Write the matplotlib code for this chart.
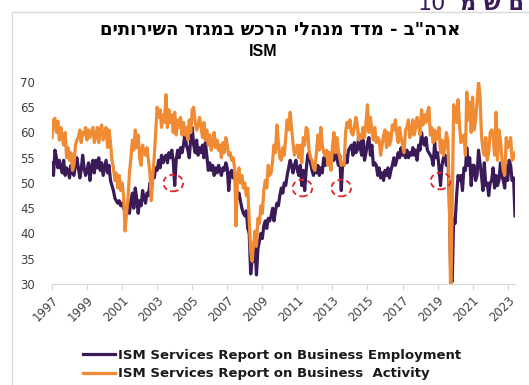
import matplotlib
matplotlib.use("Agg")
import matplotlib.pyplot as plt
import matplotlib.dates as mdates
from matplotlib.patches import Ellipse, Rectangle
import pandas as pd

# ISM services, monthly, Jul 1997 - Dec 2023
activity = [
    59.0, 62.5, 62.8, 60.0, 62.2, 58.5,
    61.0, 59.0, 57.5, 60.0, 55.0, 57.0, 54.5, 56.0, 52.5, 53.5, 57.5, 58.5,
    59.0, 60.5, 58.0, 60.0, 59.5, 61.0, 58.5, 60.5, 59.0, 60.0, 61.0, 58.0,
    59.5, 61.0, 58.0, 60.5, 61.5, 58.5, 60.0, 61.0, 57.0, 60.5, 58.0, 54.5,
    53.0, 50.5, 52.0, 49.0, 51.5, 48.5, 50.0, 47.5, 40.5, 44.0, 47.0, 52.0,
    55.0, 58.5, 56.5, 60.5, 57.0, 59.5, 55.0, 53.5, 57.5, 56.0, 55.5, 57.0,
    54.5, 52.0, 46.5, 51.5, 55.0, 60.0, 65.0, 63.0, 64.5, 61.0, 63.5, 62.0,
    67.5, 61.0, 64.5, 62.0, 63.5, 60.0, 64.0, 59.5, 62.5, 61.0, 63.0, 59.5,
    62.0, 59.5, 61.0, 58.5, 62.5, 60.0, 64.5, 65.0, 62.0, 60.5, 61.5, 63.0,
    61.0, 59.0, 62.0, 58.5, 60.5, 57.5, 59.5, 56.5, 58.0, 60.0, 57.0, 58.5,
    56.5, 57.5, 55.0, 58.0, 56.0, 59.0, 57.5, 55.5, 56.0, 54.5, 55.0, 53.0,
    41.5, 51.5, 53.0, 50.0, 51.5, 49.0, 50.0, 47.5, 49.0, 42.5, 36.5, 34.5,
    38.0, 40.5, 37.5, 43.0, 42.0, 45.5, 44.0, 48.5, 50.5, 49.0, 53.5, 51.5,
    52.0, 54.5, 57.5, 56.0, 61.5, 58.0, 55.0, 54.5, 57.0, 55.5, 59.0, 62.5,
    60.5, 64.0, 61.0, 58.0, 55.5, 56.5, 57.5, 55.0, 57.5, 54.0, 59.0, 57.5,
    61.0, 60.5, 56.5, 55.0, 54.5, 53.0, 52.5, 56.0, 59.5, 56.5, 61.0, 57.5,
    56.0, 55.5, 56.5, 53.5, 56.0, 52.5, 57.0, 60.0, 56.0, 59.0, 56.5, 55.0,
    53.5, 54.0, 53.5, 60.0, 62.0, 61.0, 62.5, 60.0, 59.5, 61.0, 63.0, 61.5,
    58.5, 59.5, 59.0, 61.0, 59.0, 62.0, 65.5, 60.0, 63.0, 60.5, 58.5, 61.0,
    58.0, 59.0, 58.5, 55.5, 57.5, 59.5, 60.5, 57.0, 60.0, 57.5, 58.5, 61.5,
    60.5, 62.5, 60.0, 58.0, 61.0, 59.0, 57.5, 56.0, 60.5, 61.0, 62.5, 59.0,
    60.0, 62.5, 59.5, 61.0, 63.0, 61.5, 59.5, 64.5, 61.5, 63.5, 62.0, 64.0,
    65.0, 59.5, 61.0, 58.0, 60.5, 58.5, 59.5, 61.0, 56.0, 58.5, 55.5, 57.0,
    60.0, 58.5, 48.0, 26.0, 45.0, 65.5, 64.0, 62.0, 66.5, 61.5, 58.0, 59.0,
    59.5, 55.5, 68.0, 62.5, 66.0, 60.0, 67.0, 60.5, 62.5, 66.0, 70.0, 67.5,
    59.5, 56.5, 55.5, 59.0, 54.5, 56.0, 60.0, 60.5, 59.5, 55.5, 64.0, 54.5,
    60.5, 58.5, 55.0, 52.5, 51.5, 59.0, 57.0, 57.5, 59.0, 54.5, 55.0, 56.0,
]

employment = [
    54.0, 51.5, 56.5, 55.0, 53.0, 54.5,
    53.0, 52.0, 54.5, 51.5, 53.0, 52.5, 51.0, 53.5, 52.0, 51.5, 53.5, 55.0,
    53.0, 51.0, 52.5, 55.5, 53.0, 51.5, 52.5, 54.0, 50.5, 53.0, 54.5, 52.0,
    54.5, 53.0, 55.0, 52.5, 54.0, 51.5, 53.0, 54.5, 52.0, 53.5, 50.5, 49.5,
    48.5, 47.0, 46.5, 46.0, 46.5, 45.5, 46.0, 45.0, 44.5, 44.0, 45.5, 44.0,
    46.5, 48.0, 45.0, 49.0, 47.0, 44.0, 46.5, 45.5, 48.5, 47.0, 46.0, 48.0,
    47.5, 50.0, 48.5, 51.5, 51.0, 53.0, 52.5, 54.5, 53.0, 55.5, 54.0, 55.0,
    55.5, 54.0, 56.0, 55.0, 56.5, 54.5, 49.5, 54.5, 56.5, 55.0, 57.0, 56.0,
    57.5, 60.0, 57.5, 56.5, 55.0, 59.0, 61.0, 57.5, 56.0, 58.5, 55.5, 57.0,
    56.0, 57.5, 55.0, 58.0, 55.5, 52.5, 54.0, 52.5, 53.5, 51.5, 53.0, 52.0,
    53.5, 52.5, 51.5, 53.0, 52.5, 54.0, 53.0, 48.5, 52.0, 52.5, 51.0, 52.0,
    49.5, 47.0, 48.0, 46.5, 45.0, 44.0, 43.5, 44.5, 41.0, 40.0, 32.0, 35.0,
    34.5, 37.0, 31.8, 37.0, 38.5, 40.0, 39.0, 41.5, 42.5, 41.0, 43.0, 42.5,
    43.5, 45.0, 42.5, 44.5, 46.0, 45.5, 47.5, 49.0, 48.0, 50.0, 49.5, 51.5,
    53.0, 54.5, 53.5, 52.0, 53.5, 54.5, 52.5, 51.5, 53.5, 49.5, 52.5, 48.5,
    52.5, 55.5, 56.0, 54.0, 52.5, 51.5, 53.0, 52.0, 53.5, 51.5, 53.0, 52.0,
    55.0, 53.5, 54.0, 56.0, 55.5, 53.0, 56.0, 54.5, 56.5, 55.0, 53.5, 55.5,
    48.5, 54.0, 53.5, 55.5, 54.0, 56.5, 57.0, 57.5, 55.5, 58.0, 56.0, 56.5,
    59.5, 57.0, 55.5, 58.5, 54.5, 56.0, 58.0, 59.0, 55.5, 57.5, 53.5, 54.0,
    53.5, 51.5, 53.0, 51.0, 52.0, 50.5, 52.5, 51.5, 53.0, 51.0, 52.5, 53.5,
    55.0, 53.5, 54.5, 56.0, 55.0, 57.0, 55.5, 56.5, 55.0, 56.5, 55.0, 56.0,
    55.5, 57.0, 55.5, 56.5, 54.5, 57.5, 56.5, 60.0, 58.0, 57.5, 59.0, 56.5,
    56.0, 55.5, 55.0, 53.5, 58.0, 55.0, 56.0, 53.0, 49.5, 53.5, 55.0, 55.5,
    53.5, 55.5, 47.5, 31.0, 30.5, 43.0, 42.0, 47.5, 51.5, 50.5, 51.5, 48.5,
    53.0, 52.5, 57.0, 53.5, 55.0, 49.5, 53.5, 53.5, 50.5, 51.5, 56.5, 54.0,
    51.5, 48.5, 54.0, 49.5, 50.0, 47.5, 50.0, 50.5, 53.0, 49.0, 51.5, 49.5,
    50.5, 54.0, 51.5, 50.5, 49.0, 53.5, 50.5, 54.5, 53.5, 50.5, 51.0, 43.5,
]

dates = pd.date_range("1997-07-01", periods=len(activity), freq="MS")
tick_years = list(range(1997, 2024, 2))
# dips in employment circled in the original
circled = [("2004-06-01", 50.0), ("2011-10-15", 49.0), ("2014-01-01", 49.0), ("2019-09-01", 50.4)]

title = 'ארה"ב - מדד מנהלי הרכש במגזר השירותים'
label_emp = "ISM Services Report on Business Employment"
label_act = "ISM Services Report on Business  Activity"

purple = "#3A1B58"
orange = "#F08A33"
grey_txt = "#404040"

fig = plt.figure(figsize=(5.29, 3.85), dpi=100)

# chart frame (cropped on the right and bottom)
fig.patches.append(Rectangle((12 / 529, -0.2), 1.2, 1.2 - 12 / 385,
                             transform=fig.transFigure, fill=False,
                             ec="#d9d9d9", lw=1.0))

# header of the slide, cut off at the top edge as in the original
fig.text(0.79, 1 - 10 / 385, "10", color=purple, fontsize=16, va="baseline", ha="left")
fig.text(0.87, 1 - 10 / 385, "ם ש מ"[::-1], color=purple, fontsize=16,
         fontweight="bold", va="baseline", ha="left", family=["DejaVu Sans"])

fig.text(0.53, 1 - 30 / 385, title[::-1], ha="center", va="center",
         fontsize=13, fontweight="bold", family=["DejaVu Sans"])
fig.text(0.497, 1 - 52 / 385, "ISM", ha="center", va="center",
         fontsize=11.5, fontweight="bold", family=["Liberation Sans", "DejaVu Sans"])

ax = fig.add_axes([52 / 529, 1 - 284 / 385, 463 / 529, 202 / 385])
ax.plot(dates, employment, color=purple, lw=2.3, label=label_emp, solid_joinstyle="round")
ax.plot(dates, activity, color=orange, lw=2.3, label=label_act, solid_joinstyle="round")

for d, v in circled:
    ax.add_patch(Ellipse((mdates.date2num(pd.Timestamp(d)), v), width=410, height=3.3,
                         fill=False, ec="#E8242B", lw=1.3, ls=(0, (3, 2)), zorder=5))

ax.set_xlim(dates[0], dates[-1])
ax.set_ylim(30, 70)
ax.set_yticks(range(30, 71, 5))
ax.set_xticks([pd.Timestamp(f"{y}-07-01") for y in tick_years])
ax.set_xticklabels([str(y) for y in tick_years], rotation=45, ha="right",
                   va="top", rotation_mode="anchor")

for s in ["top", "right", "left"]:
    ax.spines[s].set_visible(False)
ax.spines["bottom"].set_color("#d9d9d9")
ax.tick_params(axis="y", length=0, pad=12, labelsize=8.5, labelcolor=grey_txt)
ax.tick_params(axis="x", length=4, color="#d9d9d9", pad=3, labelsize=8.5, labelcolor=grey_txt)

leg = fig.legend(loc="upper left", bbox_to_anchor=(83 / 529, 1 - 349 / 385),
                 frameon=False, handlelength=2.4, handletextpad=0.25,
                 labelspacing=0.4, borderaxespad=0, borderpad=0,
                 prop={"weight": "bold", "size": 9.5})
for t in leg.get_texts():
    t.set_color("#1a1a1a")

plt.savefig("out.png", dpi=100)
